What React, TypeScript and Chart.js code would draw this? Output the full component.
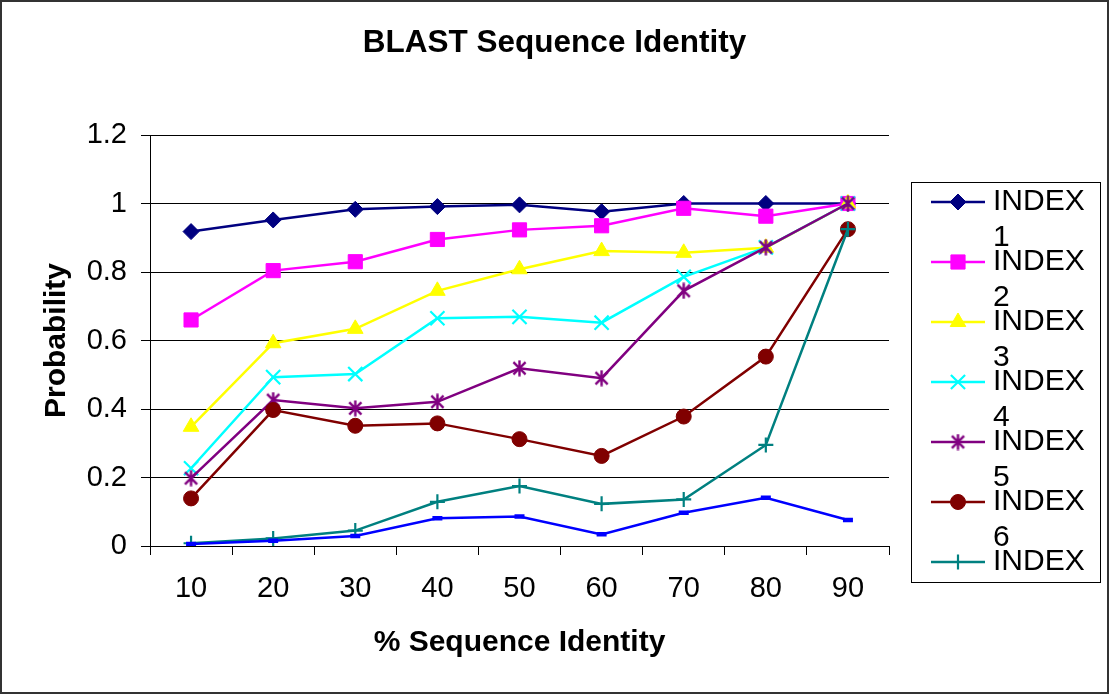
import React, { useEffect, useRef } from "react";
import { Chart, registerables } from "chart.js";
import { drawPoint } from "chart.js/helpers";

Chart.register(...registerables);

// % sequence identity buckets on the x axis
const categories = ["10", "20", "30", "40", "50", "60", "70", "80", "90"];

const seriesNames = [
  "INDEX 1",
  "INDEX 2",
  "INDEX 3",
  "INDEX 4",
  "INDEX 5",
  "INDEX 6",
  "INDEX 7",
  "INDEX 8",
];

const index1 = [0.918, 0.952, 0.983, 0.991, 0.996, 0.976, 1.0, 1.0, 1.0];
const index2 = [0.66, 0.804, 0.83, 0.895, 0.923, 0.935, 0.986, 0.963, 1.0];
const index3 = [0.348, 0.592, 0.634, 0.745, 0.808, 0.861, 0.856, 0.871, 1.0];
const index4 = [0.227, 0.493, 0.502, 0.665, 0.669, 0.652, 0.786, 0.872, 1.0];
const index5 = [0.198, 0.426, 0.402, 0.421, 0.519, 0.49, 0.745, 0.872, 1.0];
const index6 = [0.139, 0.397, 0.351, 0.358, 0.312, 0.263, 0.378, 0.553, 0.925];
const index7 = [0.008, 0.022, 0.045, 0.129, 0.175, 0.123, 0.136, 0.295, 0.925];
const index8 = [0.006, 0.015, 0.029, 0.081, 0.086, 0.034, 0.097, 0.141, 0.076];

const seriesValues = [index1, index2, index3, index4, index5, index6, index7, index8];

// y axis range and step
const yMin = 0;
const yMax = 1.2;
const yStep = 0.2;

const chartTitle = "BLAST Sequence Identity";
const xTitle = "% Sequence Identity";
const yTitle = "Probability";

const FONT = '"Liberation Sans", Arial, Helvetica, sans-serif';

// X with a vertical bar, like a spreadsheet "star" marker
function makeAsterisk(color: string, size: number, lw: number) {
  const c = document.createElement("canvas");
  c.width = size;
  c.height = size;
  const g = c.getContext("2d")!;
  g.strokeStyle = color;
  g.lineWidth = lw;
  const a = lw;
  const b = size - lw;
  g.beginPath();
  g.moveTo(a, a);
  g.lineTo(b, b);
  g.moveTo(b, a);
  g.lineTo(a, b);
  g.moveTo(size / 2, 0.5);
  g.lineTo(size / 2, size - 0.5);
  g.stroke();
  return c;
}

type SeriesStyle = {
  color: string;
  pointStyle: any;
  radius: number;
  pointBorderWidth: number;
  fill: boolean;
};

function seriesStyles(): SeriesStyle[] {
  return [
    { color: "#000080", pointStyle: "rectRot", radius: 8, pointBorderWidth: 1, fill: true },
    { color: "#FF00FF", pointStyle: "rect", radius: 10, pointBorderWidth: 1, fill: true },
    { color: "#FFFF00", pointStyle: "triangle", radius: 9, pointBorderWidth: 1, fill: true },
    { color: "#00FFFF", pointStyle: "crossRot", radius: 10, pointBorderWidth: 2.2, fill: false },
    { color: "#800080", pointStyle: makeAsterisk("#800080", 17, 2.4), radius: 8, pointBorderWidth: 2.4, fill: false },
    { color: "#800000", pointStyle: "circle", radius: 7.5, pointBorderWidth: 1, fill: true },
    { color: "#008080", pointStyle: "cross", radius: 7.5, pointBorderWidth: 2.2, fill: false },
    { color: "#0000FF", pointStyle: "line", radius: 5, pointBorderWidth: 4.5, fill: false },
  ];
}

const chromePlugin = {
  id: "chrome",
  beforeDraw(chart: any) {
    const ctx = chart.ctx;
    ctx.save();
    ctx.fillStyle = "#ffffff";
    ctx.fillRect(0, 0, chart.width, chart.height);
    ctx.restore();
  },
  afterDraw(chart: any) {
    const ctx = chart.ctx;
    ctx.save();

    // outer frame
    ctx.strokeStyle = "#333333";
    ctx.lineWidth = 2;
    ctx.strokeRect(1, 1, chart.width - 2, chart.height - 2);

    // title
    ctx.fillStyle = "#000";
    ctx.font = `bold 31.5px ${FONT}`;
    ctx.textAlign = "center";
    ctx.textBaseline = "middle";
    ctx.fillText(chartTitle, chart.width / 2, 43);

    // legend box (entries that don't fit are clipped)
    const box = { x: 911, y: 182, w: 189, h: 400 };
    ctx.fillStyle = "#fff";
    ctx.fillRect(box.x, box.y, box.w, box.h);
    ctx.strokeStyle = "#000";
    ctx.lineWidth = 1;
    ctx.strokeRect(box.x + 0.5, box.y + 0.5, box.w, box.h);
    ctx.beginPath();
    ctx.rect(box.x + 1, box.y + 1, box.w - 1, box.h - 1);
    ctx.clip();

    chart.data.datasets.forEach((ds: any, i: number) => {
      const y = 202 + i * 60;
      ctx.strokeStyle = ds.borderColor;
      ctx.lineWidth = 2.5;
      ctx.beginPath();
      ctx.moveTo(931, y);
      ctx.lineTo(985, y);
      ctx.stroke();

      ctx.fillStyle = ds.pointBackgroundColor;
      ctx.strokeStyle = ds.pointBorderColor;
      ctx.lineWidth = ds.pointBorderWidth;
      drawPoint(
        ctx,
        {
          pointStyle: ds.pointStyle,
          radius: ds.pointRadius,
          borderWidth: ds.pointBorderWidth,
          rotation: 0,
        } as any,
        958,
        y
      );

      ctx.fillStyle = "#000";
      ctx.font = `30px ${FONT}`;
      ctx.textAlign = "left";
      ctx.textBaseline = "middle";
      String(ds.label)
        .split(" ")
        .forEach((word: string, k: number) => ctx.fillText(word, 993, y + k * 36));
    });

    ctx.restore();
  },
};

export default function App() {
  const canvasRef = useRef<HTMLCanvasElement | null>(null);

  useEffect(() => {
    document.body.style.margin = "0";
    const canvas = canvasRef.current;
    if (!canvas) return;
    const styles = seriesStyles();
    const n = seriesValues.length;

    const chart = new Chart(canvas, {
      type: "line",
      data: {
        labels: categories,
        datasets: seriesValues.map((values, i) => {
          const s = styles[i];
          return {
            label: seriesNames[i],
            data: values,
            borderColor: s.color,
            backgroundColor: s.color,
            borderWidth: 2.5,
            pointStyle: s.pointStyle,
            pointRadius: s.radius,
            pointBackgroundColor: s.fill ? s.color : "transparent",
            pointBorderColor: s.color,
            pointBorderWidth: s.pointBorderWidth,
            tension: 0,
            fill: false,
            order: n - i,
          } as any;
        }),
      },
      options: {
        responsive: false,
        animation: false,
        events: [],
        devicePixelRatio: 1,
        layout: { padding: { top: 135, right: 220, bottom: 0, left: 0 } },
        plugins: {
          legend: { display: false },
          title: { display: false },
          tooltip: { enabled: false },
        },
        scales: {
          x: {
            type: "category",
            offset: true,
            grid: {
              offset: true,
              drawOnChartArea: false,
              drawTicks: true,
              tickLength: 9,
              color: "#000",
              lineWidth: 1,
            },
            border: { color: "#000", width: 1 },
            ticks: {
              font: { family: FONT, size: 29 },
              color: "#000",
              padding: 17,
              maxRotation: 0,
              autoSkip: false,
            },
            title: {
              display: true,
              text: xTitle,
              font: { family: FONT, size: 30, weight: "bold" },
              color: "#000",
              padding: { top: 0, bottom: 33 },
            },
            afterFit: (scale: any) => {
              scale.height = 148;
            },
          },
          y: {
            min: yMin,
            max: yMax,
            ticks: {
              stepSize: yStep,
              font: { family: FONT, size: 29 },
              color: "#000",
              padding: 14,
              callback: (v: any) => String(Math.round(Number(v) * 10) / 10),
            },
            grid: { color: "#000", lineWidth: 1, tickLength: 9, drawTicks: true },
            border: { color: "#000", width: 1 },
            title: {
              display: true,
              text: yTitle,
              font: { family: FONT, size: 30, weight: "bold" },
              color: "#000",
              padding: { top: 39, bottom: 0 },
            },
            afterFit: (scale: any) => {
              scale.width = 150;
            },
          },
        },
      } as any,
      plugins: [chromePlugin],
    });

    return () => chart.destroy();
  }, []);

  return (
    <div style={{ width: 1109, height: 694 }}>
      <canvas ref={canvasRef} width={1109} height={694} style={{ display: "block" }} />
    </div>
  );
}
